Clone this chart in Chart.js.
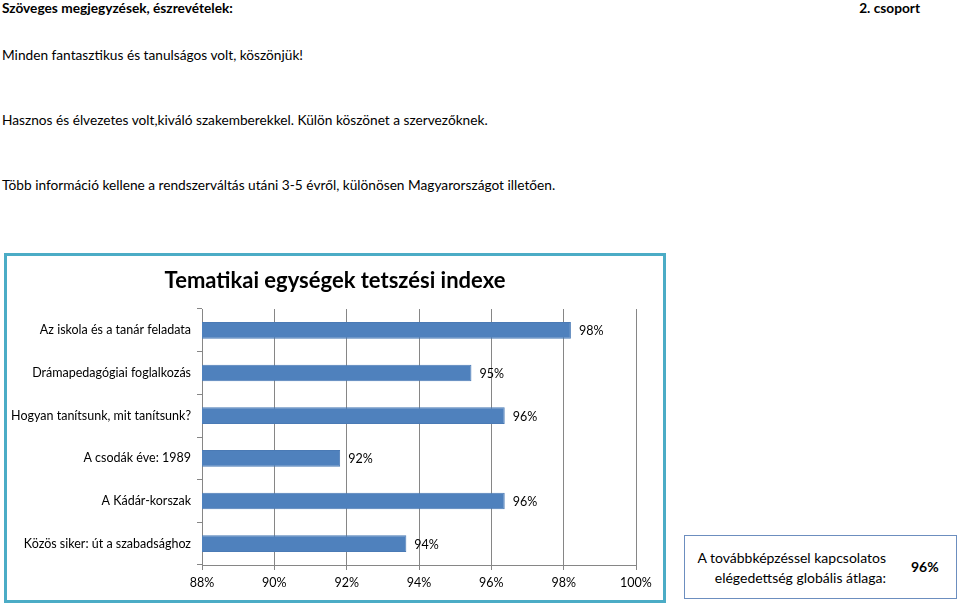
<!DOCTYPE html>
<html>
<head>
<meta charset="utf-8">
<script src="https://cdn.jsdelivr.net/npm/chart.js@4/dist/chart.umd.min.js"></script>
<style>
    body { margin: 0; width: 960px; height: 606px; position: relative; background: #fff; font-family: Lato, "Noto Sans", sans-serif; color: #000; overflow: hidden; }
    .txt { position: absolute; font-size: 13.7px; white-space: nowrap; line-height: 16px; }
    .bold { font-weight: bold; }
    .chartBox { position: absolute; left: 4px; top: 253px; width: 656px; height: 344px; border: 3px solid #4bacc6; }
    .avgBox { position: absolute; left: 684px; top: 535px; width: 271px; height: 62px; border: 1.5px solid #6c8ebf; }
    .avgText { position: absolute; right: 70px; top: 12px; text-align: right; font-size: 14px; line-height: 20px; }
    .avgVal { position: absolute; left: 226px; top: 22px; font-size: 14px; font-weight: bold; }
</style>
</head>
<body>
<div class="txt bold" style="left:2px; top:0px;">Szöveges megjegyzések, észrevételek:</div>
<div class="txt bold" style="right:40px; top:0px;">2. csoport</div>
<div class="txt" style="left:2px; top:47px;">Minden fantasztikus és tanulságos volt, köszönjük!</div>
<div class="txt" style="left:2px; top:112px;">Hasznos és élvezetes volt,kiváló szakemberekkel. Külön köszönet a szervezőknek.</div>
<div class="txt" style="left:2px; top:177px;">Több információ kellene a rendszerváltás utáni 3-5 évről, különösen Magyarországot illetően.</div>

<div class="chartBox"><canvas id="myChart" width="656" height="344"></canvas></div>

<div class="avgBox">
    <div class="avgText">A továbbképzéssel kapcsolatos<br>elégedettség globális átlaga:</div>
    <div class="avgVal">96%</div>
</div>

<script>
// Témák és tetszési index (%)
const categories = [
    'Az iskola és a tanár feladata',
    'Drámapedagógiai foglalkozás',
    'Hogyan tanítsunk, mit tanítsunk?',
    'A csodák éve: 1989',
    'A Kádár-korszak',
    'Közös siker: út a szabadsághoz'
];
const indexValues = [98.2, 95.45, 96.37, 91.82, 96.37, 93.65];
const axisMin = 88;
const axisMax = 100;
const axisStep = 2;
const chartTitle = 'Tematikai egységek tetszési indexe';

const font = "Lato, 'Noto Sans', sans-serif";
const gridColor = '#868686';

// cím a teljes vászon közepére (a beépített cím a paddinget is figyelembe venné)
const centerTitle = {
    id: 'centerTitle',
    afterDraw(chart) {
        const ctx = chart.ctx;
        ctx.save();
        ctx.font = 'bold 22px ' + font;
        ctx.fillStyle = '#000';
        ctx.textAlign = 'center';
        ctx.textBaseline = 'middle';
        ctx.fillText(chartTitle, chart.width / 2, 25);
        ctx.restore();
    }
};

// felirat a sávok végére
const barLabels = {
    id: 'barLabels',
    afterDatasetsDraw(chart) {
        const ctx = chart.ctx;
        const meta = chart.getDatasetMeta(0);
        ctx.save();
        ctx.font = '12.5px ' + font;
        ctx.fillStyle = '#000';
        ctx.textBaseline = 'middle';
        meta.data.forEach((bar, i) => {
            ctx.fillText(Math.round(indexValues[i]) + '%', bar.x + 8, bar.y + 1);
        });
        ctx.restore();
    }
};

const ctx = document.getElementById('myChart').getContext('2d');
const chart = new Chart(ctx, {
    type: 'bar',
    data: {
        labels: categories,
        datasets: [{
            data: indexValues,
            backgroundColor: '#4f81bd',
            borderColor: '#4a7ab5',
            borderWidth: 1,
            barPercentage: 0.39,
            categoryPercentage: 1
        }]
    },
    options: {
        indexAxis: 'y',
        responsive: false,
        animation: false,
        layout: { padding: { left: 0, right: 27, top: 53, bottom: 5 } },
        plugins: {
            legend: { display: false },
            tooltip: { enabled: false },
            title: { display: false }
        },
        scales: {
            x: {
                min: axisMin,
                max: axisMax,
                ticks: {
                    stepSize: axisStep,
                    color: '#000',
                    font: { family: font, size: 12.5 },
                    padding: 5,
                    maxRotation: 0,
                    callback: v => v + '%'
                },
                grid: { color: gridColor, tickLength: 5 },
                border: { color: gridColor }
            },
            y: {
                ticks: { color: '#000', font: { family: font, size: 12.5 }, padding: 6, autoSkip: false },
                grid: { offset: true, drawOnChartArea: false, color: gridColor, tickLength: 5 },
                border: { color: gridColor },
                afterFit: scale => { scale.width = 195; }
            }
        }
    },
    plugins: [barLabels, centerTitle]
});
</script>
</body>
</html>
